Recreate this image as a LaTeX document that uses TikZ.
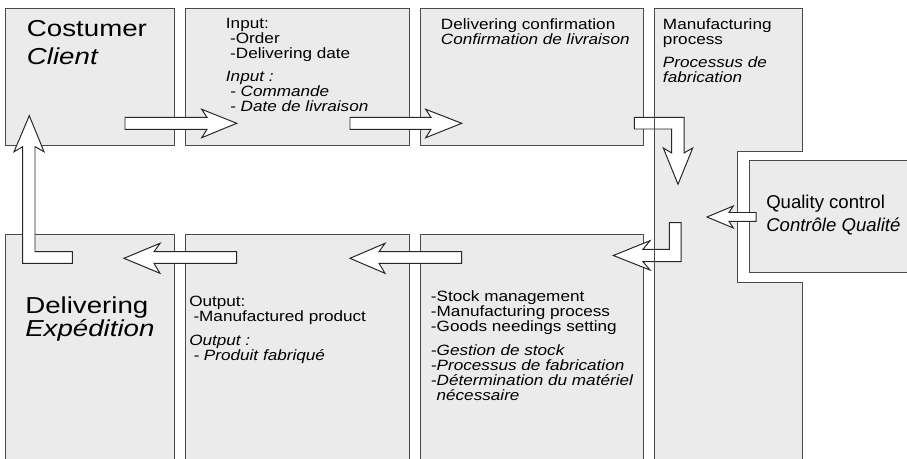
\documentclass[tikz,border=0pt]{standalone}
\usepackage{fontspec}
\setmainfont{Liberation Sans}
\newfontfamily\widefont[FakeStretch=1.15]{Liberation Sans}
\newfontfamily\bigfont[FakeStretch=1.2]{Liberation Sans}
\usetikzlibrary{fit}
\definecolor{boxfill}{HTML}{EBEBEB}
\definecolor{boxline}{HTML}{4A4A4A}
% lines of a label, first baseline on the node's base
\newcommand{\textlines}[1]{\parbox[t]{6cm}{\raggedright #1}}

\begin{document}
\begin{tikzpicture}[
    x=0.025cm, y=-0.025cm,
    box/.style={
        draw=boxline,
        fill=boxfill,
        line width=0.7pt,
        inner sep=0pt
    },
    flow/.style={
        draw=black!85,
        fill=white,
        line width=0.7pt,
        line join=miter
    },
    txt/.style={font=\widefont\fontsize{10.6}{10.7}\selectfont, anchor=base west, inner sep=0pt},
    bigtxt/.style={font=\bigfont\fontsize{16.4}{19.7}\selectfont, anchor=base west, inner sep=0pt},
    qtxt/.style={font=\fontsize{13.2}{16.6}\selectfont, anchor=base west, inner sep=0pt}
]

\useasboundingbox (0,0) rectangle (907,459);
\clip (0,0) rectangle (907,459);

% Boxes
\node[box, fit={(5,8) (174,145)}] (client) {};
\node[box, fit={(185,8) (409,145)}] (input) {};
\node[box, fit={(420,8) (643,145)}] (confirm) {};
\draw[box] (654,8) -- (802,8) -- (802,151.7) -- (737.3,151.7) -- (737.3,282.7)
    -- (802,282.7) -- (802,470) -- (654,470) -- cycle;
\node[box, fit={(749.3,160.7) (915,272.7)}] (quality) {};
\node[box, fit={(5,234) (174,470)}] (delivery) {};
\node[box, fit={(185,234) (409,470)}] (output) {};
\node[box, fit={(420,234) (643,470)}] (stock) {};

% Texts
\node[bigtxt] (clienttxt) at (26.7,36.7) {\textlines{Costumer\\{\itshape Client}}};
\node[txt] (inputtxt) at (225.7,28.3) {\textlines{Input:\\\hspace*{3pt}-Order\\\hspace*{3pt}-Delivering date\\[6pt]
    {\itshape Input :}\\\hspace*{3pt}{\itshape - Commande}\\\hspace*{3pt}{\itshape - Date de livraison}}};
\node[txt] (confirmtxt) at (440.7,29.3) {\textlines{Delivering confirmation\\{\itshape Confirmation de livraison}}};
\node[txt] (processtxt) at (662.7,29.3) {\textlines{Manufacturing\\process\\[6pt]{\itshape Processus de}\\{\itshape fabrication}}};
\node[qtxt] (qualitytxt) at (766,208.3) {\textlines{Quality control\\{\itshape Contrôle Qualité}}};
\node[bigtxt, font=\bigfont\fontsize{16.4}{15.4}\selectfont] (deliverytxt) at (25,313.3) {\textlines{Delivering\\{\itshape Expédition}}};
\node[txt] (outputtxt) at (189,306.7) {\textlines{Output:\\\hspace*{3pt}-Manufactured product\\[6pt]
    {\itshape Output :}\\\hspace*{3pt}{\itshape - Produit fabriqué}}};
\node[txt] (stocktxt) at (430.7,301.7) {\textlines{-Stock management\\-Manufacturing process\\-Goods needings setting\\[6pt]
    {\itshape -Gestion de stock}\\{\itshape -Processus de fabrication}\\{\itshape -Détermination du matériel}\\\hspace*{4pt}{\itshape nécessaire}}};

% Arrows
\draw[flow] (125,117.3) -- (207,117.3) -- (201.7,109.3) -- (236.7,123.3)
    -- (201.7,137.7) -- (207,129.3) -- (125,129.3) -- cycle;
\draw[flow] (350,117.3) -- (431,117.3) -- (425.7,109.3) -- (461.7,123.3)
    -- (425.7,137.7) -- (431,129.3) -- (350,129.3) -- cycle;
\draw[flow] (634.3,117.3) -- (684,117.3) -- (684,153) -- (692.7,148) -- (678,184.3)
    -- (663.3,148) -- (671.7,153) -- (671.7,129) -- (634.3,129) -- cycle;
\draw[flow] (756,212.5) -- (729,212.5) -- (733.3,206) -- (707,217)
    -- (733.3,228) -- (729,221.3) -- (756,221.3) -- cycle;
\draw[flow] (669.3,222.7) -- (681,222.7) -- (681,261.7) -- (643,261.7) -- (650,270)
    -- (613.3,255.5) -- (650,240.7) -- (643,249.3) -- (669.3,249.3) -- cycle;
\draw[flow] (461.7,251.7) -- (379,251.7) -- (385,243.3) -- (350,258.3)
    -- (385,273.3) -- (379,263.3) -- (461.7,263.3) -- cycle;
\draw[flow] (236.7,251.7) -- (154,251.7) -- (160,243.3) -- (124,258.3)
    -- (160,273.3) -- (154,263.3) -- (236.7,263.3) -- cycle;
\draw[flow] (72.3,251.7) -- (35,251.7) -- (35,146.7) -- (44,151.7) -- (29.3,115.7)
    -- (14,151.7) -- (22.7,146.7) -- (22.7,263.3) -- (72.3,263.3) -- cycle;

% left edge of the process box stays on top
\draw[boxline, line width=0.7pt] (654,8) -- (654,470);

\end{tikzpicture}
\end{document}
